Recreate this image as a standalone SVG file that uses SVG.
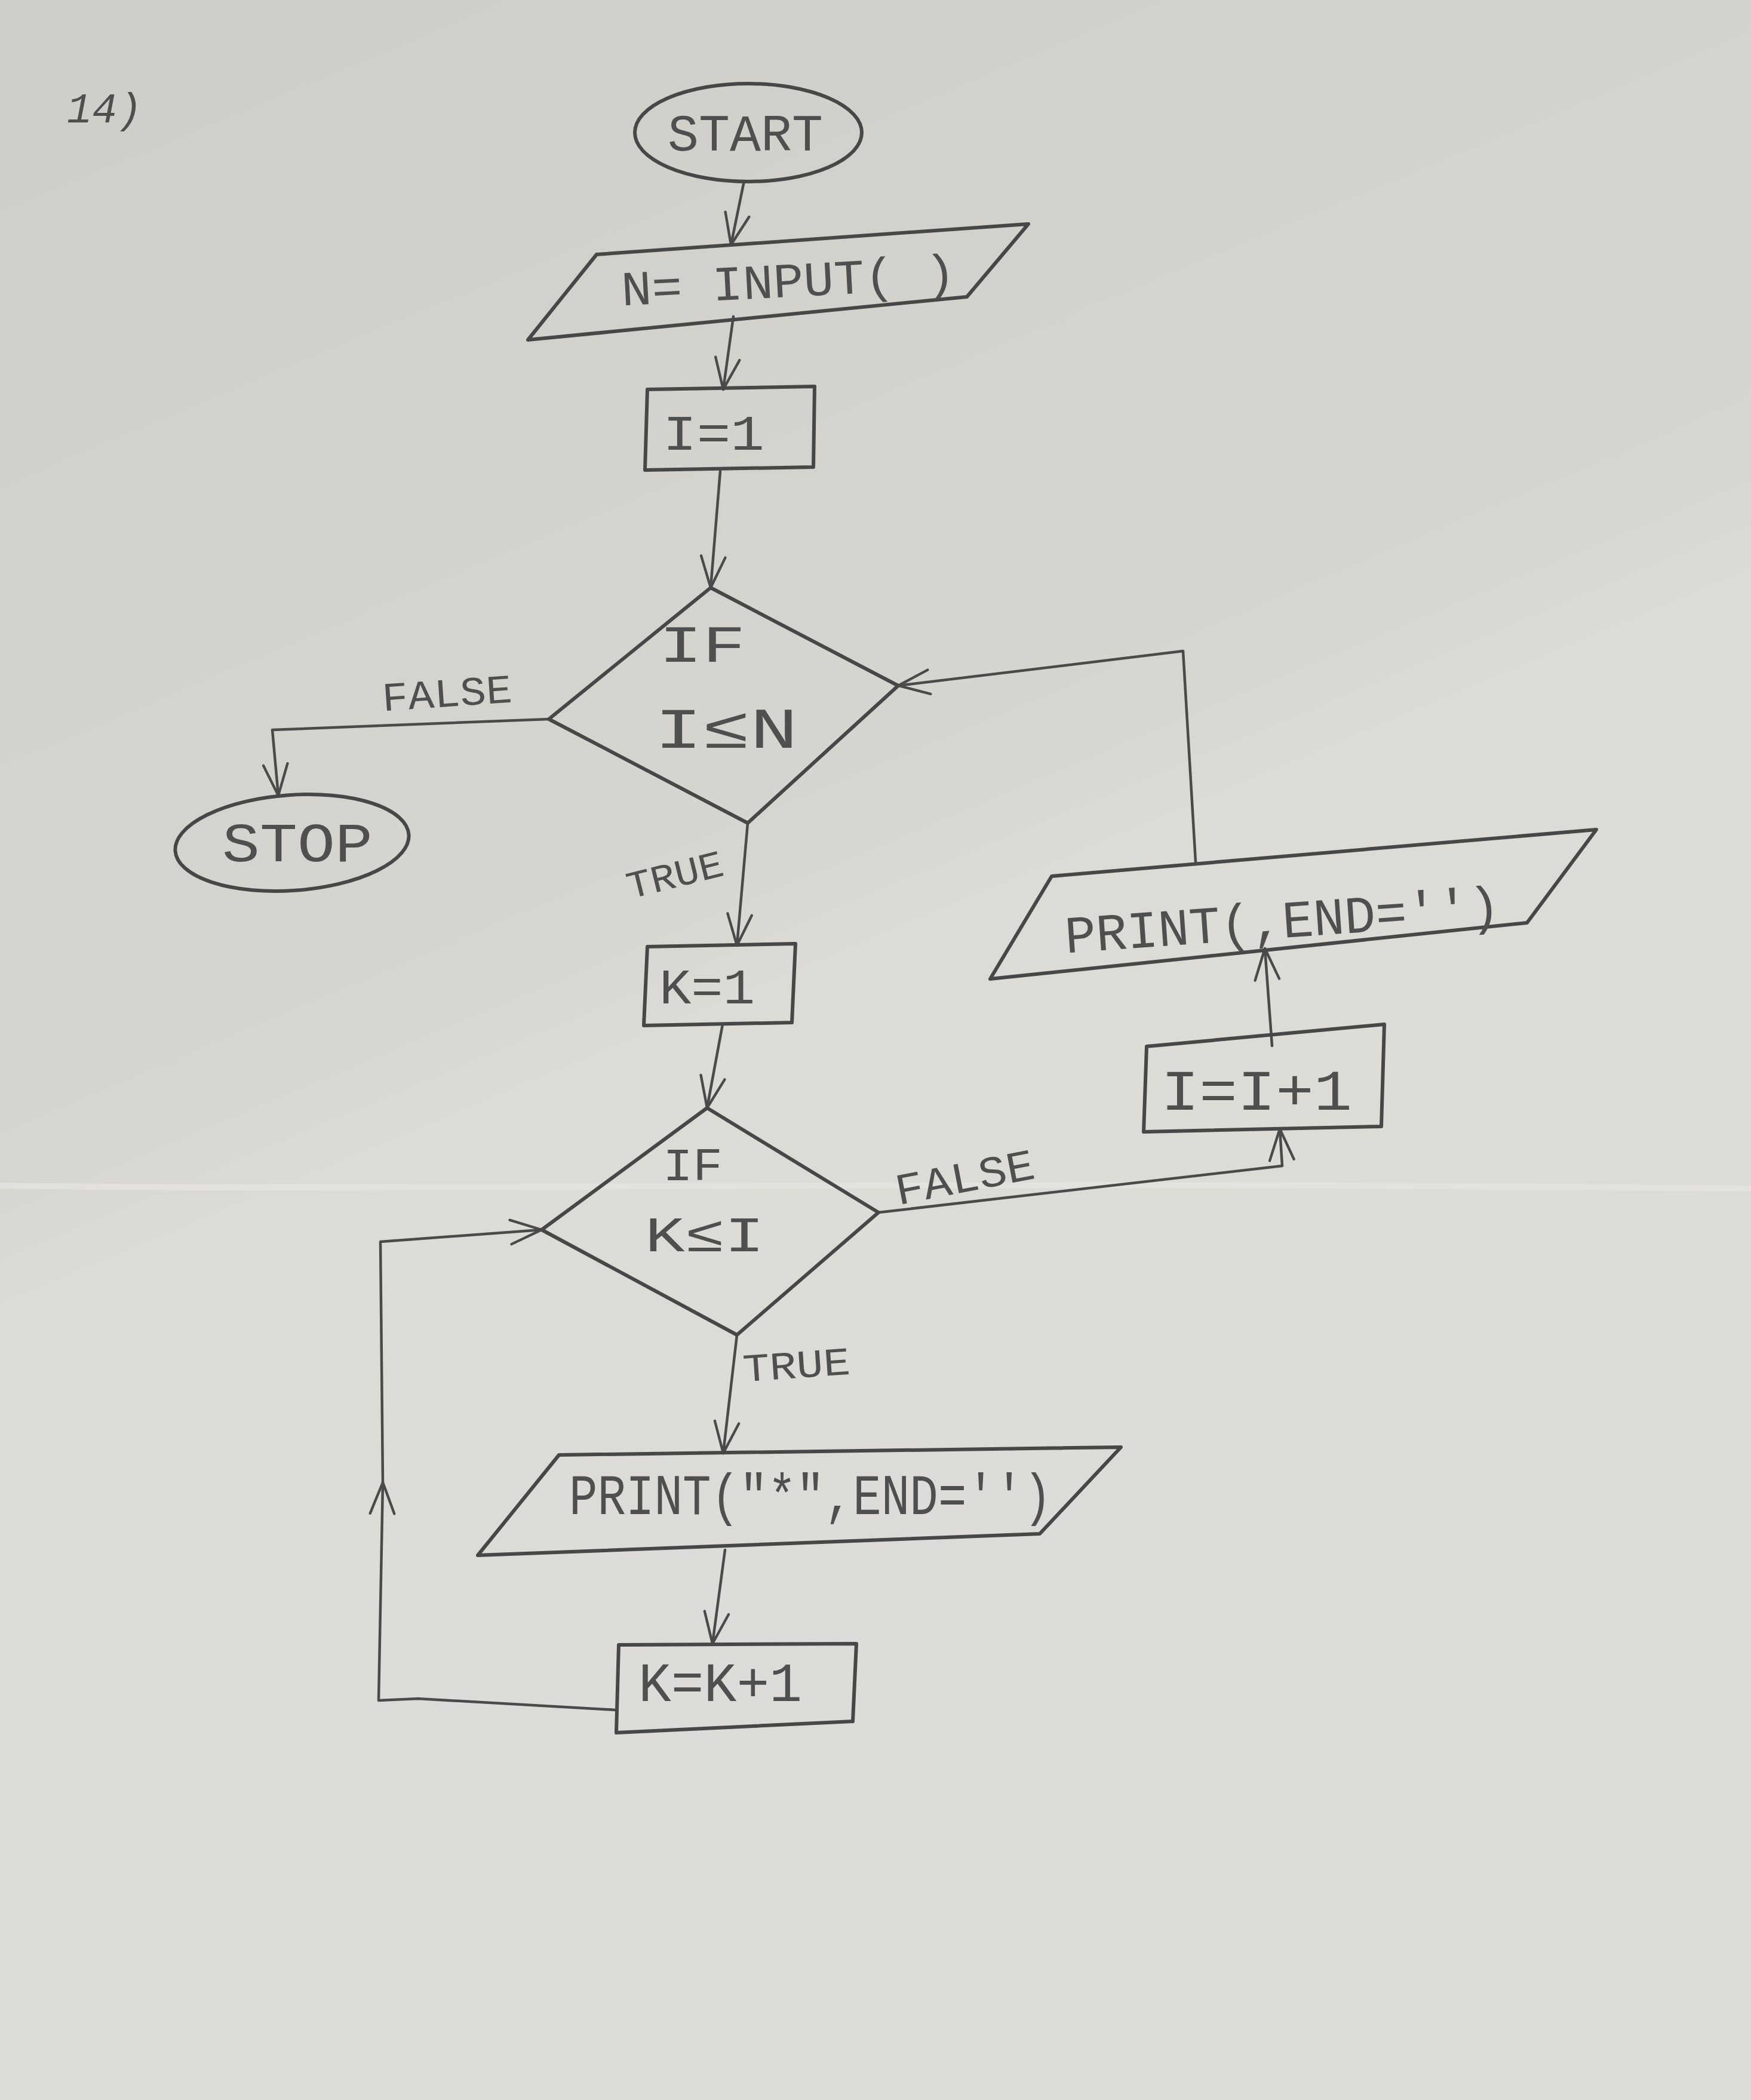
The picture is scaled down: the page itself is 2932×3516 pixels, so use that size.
<svg xmlns="http://www.w3.org/2000/svg" width="2932" height="3516" viewBox="0 0 2932 3516">
  <defs>
    <linearGradient id="paper" x1="0" y1="0" x2="0.35" y2="1">
      <stop offset="0" stop-color="#cfcdc8"/>
      <stop offset="0.5" stop-color="#d7d5d0"/>
      <stop offset="0.56" stop-color="#dddbd6"/>
      <stop offset="1" stop-color="#dedcd8"/>
    </linearGradient>
    <marker id="arr" viewBox="0 0 60 60" refX="57" refY="30" markerWidth="58" markerHeight="58" markerUnits="userSpaceOnUse" orient="auto">
      <path d="M3,9 L57,30 L3,51" fill="none" stroke="#4a4a4a" stroke-width="4.5" stroke-linecap="round" stroke-linejoin="round"/>
    </marker>
  </defs>
  <style>
    .shape { fill: none; stroke: #474747; stroke-width: 6; stroke-linejoin: round; stroke-linecap: round; }
    .edge { fill: none; stroke: #4a4a4a; stroke-width: 4.5; stroke-linejoin: round; stroke-linecap: round; }
    .lbl { font-family: "Liberation Mono", "DejaVu Sans Mono", monospace; fill: #4f4f4f; text-anchor: middle; }
  </style>

  <!-- paper -->
  <rect width="2932" height="3516" fill="url(#paper)"/>
  <path d="M0,1985 C700,1995 1500,1975 2932,1990" stroke="#e6e4e0" stroke-width="10" fill="none" opacity="0.8"/>

  <text class="lbl" x="175" y="205" font-size="70" font-style="italic">14)</text>

  <!-- connectors -->
  <g id="connectors">
    <path class="edge" d="M1246,303 L1224,410" marker-end="url(#arr)"/>
    <path class="edge" d="M1228,530 L1211,652" marker-end="url(#arr)"/>
    <path class="edge" d="M1206,789 L1190,984" marker-end="url(#arr)" stroke-width="6"/>
    <path class="edge" d="M919,1204 L456,1222 L466,1332" marker-end="url(#arr)"/>
    <path class="edge" d="M1252,1378 L1234,1583" marker-end="url(#arr)"/>
    <path class="edge" d="M1210,1715 L1184,1855" marker-end="url(#arr)"/>
    <path class="edge" d="M1471,2030 L2147,1952 L2143,1890" marker-end="url(#arr)"/>
    <path class="edge" d="M2130,1751 L2118,1588" marker-end="url(#arr)"/>
    <path class="edge" d="M2002,1443 L1981,1090 L1504,1148" marker-end="url(#arr)"/>
    <path class="edge" d="M1234,2235 L1211,2433" marker-end="url(#arr)"/>
    <path class="edge" d="M1214,2595 L1193,2752" marker-end="url(#arr)"/>
    <path class="edge" d="M1032,2863 L700,2844 L634,2847 L641,2482" marker-end="url(#arr)"/>
    <path class="edge" d="M641,2482 L637,2079 L907,2059" marker-end="url(#arr)"/>
    <text class="lbl" x="750" y="1183" font-size="68" textLength="218" lengthAdjust="spacingAndGlyphs" transform="rotate(-4 750 1183)">FALSE</text>
    <text class="lbl" x="1135" y="1485" font-size="64" textLength="165" lengthAdjust="spacingAndGlyphs" transform="rotate(-14 1135 1485)">TRUE</text>
    <text class="lbl" x="1620" y="1995" font-size="74" textLength="236" lengthAdjust="spacingAndGlyphs" transform="rotate(-11 1620 1995)">FALSE</text>
    <text class="lbl" x="1335" y="2307" font-size="66" textLength="180" lengthAdjust="spacingAndGlyphs" transform="rotate(-4 1335 2307)">TRUE</text>
  </g>

  <!-- nodes -->
  <g id="start">
    <ellipse class="shape" cx="1253" cy="222" rx="190" ry="82"/>
    <text class="lbl" x="1248" y="252" font-size="88" textLength="260" lengthAdjust="spacingAndGlyphs">START</text>
  </g>
  <g id="input-n">
    <path class="shape" d="M999,426 L1722,375 L1619,497 L884,569 Z"/>
    <text class="lbl" x="1320" y="497" font-size="82" textLength="560" lengthAdjust="spacingAndGlyphs" transform="rotate(-3 1320 470)">N= INPUT( )</text>
  </g>
  <g id="init-i">
    <path class="shape" d="M1084,652 L1364,647 L1362,782 L1080,787 Z"/>
    <text class="lbl" x="1195" y="753" font-size="84" textLength="170" lengthAdjust="spacingAndGlyphs">I=1</text>
  </g>
  <g id="test-i">
    <path class="shape" d="M1190,984 L1504,1148 L1252,1378 L919,1204 Z"/>
    <text class="lbl" x="1176" y="1108" font-size="88" textLength="145" lengthAdjust="spacingAndGlyphs">IF</text>
    <text class="lbl" x="1216" y="1252" font-size="96" textLength="240" lengthAdjust="spacingAndGlyphs">I≤N</text>
  </g>
  <g id="stop">
    <ellipse class="shape" cx="489" cy="1411" rx="196" ry="80" transform="rotate(-4 489 1411)"/>
    <text class="lbl" x="498" y="1442" font-size="92" textLength="252" lengthAdjust="spacingAndGlyphs">STOP</text>
  </g>
  <g id="init-k">
    <path class="shape" d="M1084,1585 L1332,1580 L1326,1712 L1078,1717 Z"/>
    <text class="lbl" x="1184" y="1680" font-size="84" textLength="160" lengthAdjust="spacingAndGlyphs">K=1</text>
  </g>
  <g id="test-k">
    <path class="shape" d="M1184,1855 L1471,2030 L1234,2235 L907,2059 Z"/>
    <text class="lbl" x="1160" y="1976" font-size="78" textLength="100" lengthAdjust="spacingAndGlyphs">IF</text>
    <text class="lbl" x="1180" y="2095" font-size="84" textLength="200" lengthAdjust="spacingAndGlyphs">K≤I</text>
  </g>
  <g id="inc-i">
    <path class="shape" d="M1920,1752 L2318,1715 L2313,1886 L1915,1895 Z"/>
    <text class="lbl" x="2104" y="1858" font-size="96" textLength="320" lengthAdjust="spacingAndGlyphs">I=I+1</text>
  </g>
  <g id="print-newline">
    <path class="shape" d="M1761,1467 L2673,1389 L2557,1545 L1658,1639 Z"/>
    <text class="lbl" x="2147" y="1570" font-size="88" textLength="730" lengthAdjust="spacingAndGlyphs" transform="rotate(-4 2147 1540)">PRINT(,END='')</text>
  </g>
  <g id="print-star">
    <path class="shape" d="M936,2436 L1877,2423 L1741,2568 L800,2604 Z"/>
    <text class="lbl" x="1357" y="2535" font-size="96" textLength="808" lengthAdjust="spacingAndGlyphs">PRINT("*",END='')</text>
  </g>
  <g id="inc-k">
    <path class="shape" d="M1036,2754 L1434,2752 L1428,2882 L1032,2901 Z"/>
    <text class="lbl" x="1206" y="2848" font-size="92" textLength="274" lengthAdjust="spacingAndGlyphs">K=K+1</text>
  </g>
</svg>
